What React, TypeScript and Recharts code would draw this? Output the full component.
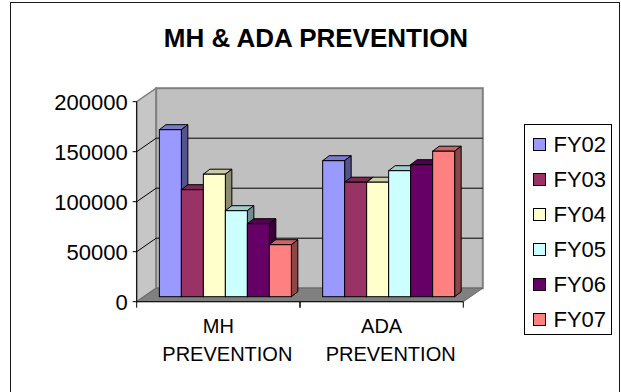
import React from 'react';
import { BarChart, Bar, XAxis, YAxis, CartesianGrid, Legend } from 'recharts';

// Categories and yearly values
const categories = ['MH PREVENTION', 'ADA PREVENTION'];
const fy02 = [167000, 136000];
const fy03 = [107000, 114500];
const fy04 = [122500, 114500];
const fy05 = [86000, 126000];
const fy06 = [73000, 132000];
const fy07 = [52000, 145500];
const yTicks = [0, 50000, 100000, 150000, 200000];

const seriesKeys = ['FY02', 'FY03', 'FY04', 'FY05', 'FY06', 'FY07'];
const seriesColors = ['#9999FF', '#993366', '#FFFFCC', '#CCFFFF', '#660066', '#FF8080'];

const data = categories.map((category, i) => ({
  category,
  FY02: fy02[i],
  FY03: fy03[i],
  FY04: fy04[i],
  FY05: fy05[i],
  FY06: fy06[i],
  FY07: fy07[i],
}));

const FONT = "Arial, 'Liberation Sans', sans-serif";

// 3D projection offsets
const WALL_DX = 19.5;
const WALL_DY = -13.5;
const BAR_SHIFT_X = 6;
const BAR_SHIFT_Y = -5;
const BAR_DEPTH_X = 6.5;
const BAR_DEPTH_Y = -5;

const shade = (hex: string, k: number) => {
  const n = parseInt(hex.slice(1), 16);
  const r = Math.round(((n >> 16) & 255) * k);
  const g = Math.round(((n >> 8) & 255) * k);
  const b = Math.round((n & 255) * k);
  return `rgb(${r},${g},${b})`;
};

const makeBarShape = (color: string) => (props: any) => {
  const { x, y, width, height } = props;
  if (width == null || height == null) return <g />;
  const fx = x + BAR_SHIFT_X;
  const fy = y + BAR_SHIFT_Y;
  const dx = BAR_DEPTH_X;
  const dy = BAR_DEPTH_Y;
  return (
    <g>
      <polygon
        points={`${fx},${fy} ${fx + dx},${fy + dy} ${fx + width + dx},${fy + dy} ${fx + width},${fy}`}
        fill={shade(color, 0.8)}
        stroke="#000"
        strokeWidth={1}
        strokeLinejoin="round"
      />
      <polygon
        points={`${fx + width},${fy} ${fx + width + dx},${fy + dy} ${fx + width + dx},${fy + height + dy} ${fx + width},${fy + height}`}
        fill={shade(color, 0.55)}
        stroke="#000"
        strokeWidth={1}
        strokeLinejoin="round"
      />
      <rect x={fx} y={fy} width={width} height={height} fill={color} stroke="#000" strokeWidth={1} />
    </g>
  );
};

// Back wall, left side wall and floor of the 3D box, sized from the plot area
const Walls = ({ x, y, width, height }: any) => {
  const bx = x + WALL_DX;
  const by = y + WALL_DY;
  return (
    <g>
      <polygon
        points={`${x},${y} ${bx},${by} ${bx},${by + height} ${x},${y + height}`}
        fill="#C6C6C6"
        stroke="#808080"
        strokeWidth={1.5}
      />
      <rect x={bx} y={by} width={width} height={height} fill="#C0C0C0" stroke="#808080" strokeWidth={2} />
      <polygon
        points={`${x},${y + height} ${bx},${by + height} ${bx + width},${by + height} ${x + width},${y + height}`}
        fill="#808080"
        stroke="#6a6a6a"
        strokeWidth={1}
      />
    </g>
  );
};

// Each horizontal grid line runs along the side wall and then across the back wall;
// the first one also lays down the walls underneath.
const GridLine = (props: any) => {
  const { x1, y1, x2, x, y, width, height, index } = props;
  const interior = y1 > y + 0.5 && y1 < y + height - 0.5;
  return (
    <g key={props.key}>
      {index === 0 && <Walls x={x} y={y} width={width} height={height} />}
      {interior && (
        <>
          <line x1={x1} y1={y1} x2={x1 + WALL_DX} y2={y1 + WALL_DY} stroke="#000" strokeWidth={1} />
          <line x1={x1 + WALL_DX} y1={y1 + WALL_DY} x2={x2 + WALL_DX} y2={y1 + WALL_DY} stroke="#000" strokeWidth={1} />
        </>
      )}
    </g>
  );
};

const CategoryTick = (props: any) => {
  const { x, y, payload } = props;
  const half = payload.offset ?? 0;
  const [first, ...rest] = String(payload.value).split(' ');
  return (
    <g>
      <line x1={x - half} y1={y} x2={x - half} y2={y + 6} stroke="#000" />
      <line x1={x + half} y1={y} x2={x + half} y2={y + 6} stroke="#000" />
      <text x={x} y={y + 31} textAnchor="middle" fill="#000" fontSize={20} fontFamily={FONT}>
        {first}
      </text>
      <text x={x + 9} y={y + 59} textAnchor="middle" fill="#000" fontSize={20} fontFamily={FONT}>
        {rest.join(' ')}
      </text>
    </g>
  );
};

const LegendBox = (props: any) => {
  const items = props.payload || [];
  return (
    <div
      style={{
        boxSizing: 'border-box',
        width: 88,
        height: 211,
        border: '1px solid #000',
        background: '#fff',
        paddingTop: 1.5,
        fontFamily: FONT,
        fontSize: 22,
        color: '#000',
      }}
    >
      {items.map((it: any) => (
        <div key={it.value} style={{ height: 35, lineHeight: '35px', display: 'flex', alignItems: 'center', whiteSpace: 'nowrap' }}>
          <span
            style={{
              display: 'inline-block',
              boxSizing: 'border-box',
              width: 13,
              height: 13,
              marginLeft: 7.5,
              marginRight: 8,
              background: it.color,
              border: '1px solid #000',
            }}
          />
          <span>{it.value}</span>
        </div>
      ))}
    </div>
  );
};

export default function App() {
  return (
    <div style={{ position: 'absolute', left: 0, top: 0, width: 621, height: 392, overflow: 'hidden', background: '#fff' }}>
      <div
        style={{
          position: 'absolute',
          left: 9.5,
          top: 2,
          width: 608,
          height: 420,
          border: '1.5px solid #1a1a1a',
        }}
      />
      <div
        style={{
          position: 'absolute',
          left: 0,
          top: 25,
          width: 632,
          textAlign: 'center',
          fontFamily: FONT,
          fontWeight: 'bold',
          fontSize: 26,
          lineHeight: '26px',
          color: '#000',
        }}
      >
        MH &amp; ADA PREVENTION
      </div>
      <div style={{ position: 'absolute', left: 0, top: 0 }}>
        <BarChart
          width={621}
          height={392}
          data={data}
          margin={{ top: 101.7, right: 157.7, left: 0, bottom: 30.3 }}
          barCategoryGap="10.2%"
          barGap={0}
        >
          <CartesianGrid vertical={false} horizontal={GridLine} stroke="#000" />
          <XAxis
            dataKey="category"
            interval={0}
            height={60}
            tickSize={0}
            tickMargin={0}
            tickLine={false}
            axisLine={{ stroke: '#000' }}
            tick={CategoryTick}
          />
          <YAxis
            width={136.7}
            domain={[0, 200000]}
            ticks={yTicks}
            interval={0}
            tickSize={4}
            tickMargin={5}
            tickLine={{ stroke: '#000' }}
            axisLine={{ stroke: '#000' }}
            tick={{ fill: '#000', fontSize: 22, fontFamily: FONT }}
          />
          {seriesKeys.map((key, i) => (
            <Bar
              key={key}
              dataKey={key}
              fill={seriesColors[i]}
              isAnimationActive={false}
              shape={makeBarShape(seriesColors[i])}
            />
          ))}
          <Legend
            layout="horizontal"
            align="center"
            verticalAlign="middle"
            content={LegendBox}
            wrapperStyle={{ position: 'absolute', left: 524, top: 124.3, width: 88, height: 211, margin: 0 }}
          />
        </BarChart>
      </div>
    </div>
  );
}
